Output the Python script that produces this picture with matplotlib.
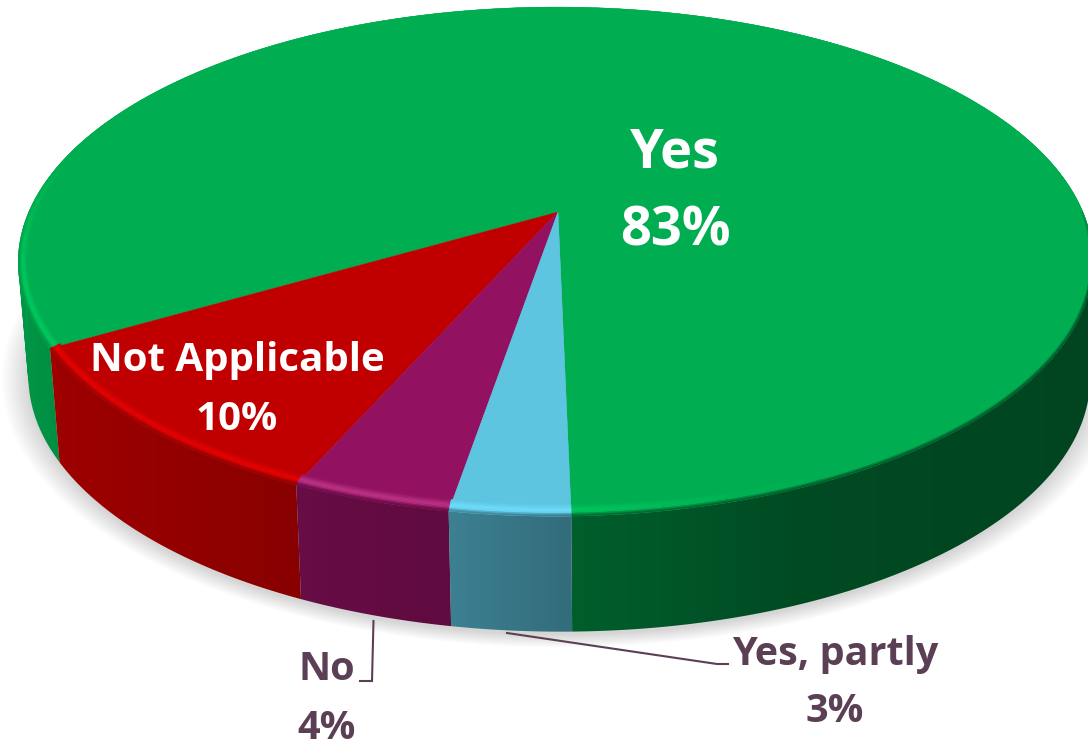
import numpy as np
import matplotlib
matplotlib.use("Agg")
import matplotlib.pyplot as plt
from matplotlib.collections import PolyCollection
from matplotlib.path import Path

labels = ["Yes", "Not Applicable", "No", "Yes, partly"]
shares = [83, 10, 4, 3]
colors = ["#00AD50", "#C00000", "#921161", "#5DC5E0"]
lights = ["#00CC60", "#E80404", "#C2388A", "#70E0FF"]

START = 271.0  # first slice starts at the front of the disc
PIX_W, PIX_H = 1088, 741
CX, CY = 558.0, 212.0
K, B = 0.195, 203.5
C, D = 527.0, -1.5
DEPTH = 115.5

plt.rcParams["font.family"] = ["Open Sans", "DejaVu Sans"]


def rgb(c):
    return np.array(matplotlib.colors.to_rgb(c))


def top_xy(t, ru=1.0, rv=1.0):
    # perspective view of the disc's top face
    u = ru * np.cos(np.radians(t))
    v = rv * np.sin(np.radians(t))
    w = 1 + K * v + 0.005 * u
    return CX + (C * u + D * v) / w, (CY - B * v) / w


def bottom_xy(t):
    u = np.cos(np.radians(t))
    v = np.sin(np.radians(t))
    w = 1 + K * v
    return CX + 1 + 0.988 * (C * u + D * v) / w, (CY - B * v) / w + DEPTH


def wall_shade(x):
    return np.interp(x, [17, 60, 300, 450, 571, 800, 1090],
                     [0.88, 0.82, 0.71, 0.65, 0.55, 0.43, 0.40])


fig = plt.figure(figsize=(PIX_W / 100, PIX_H / 100), dpi=100)
ax = fig.add_axes([0, 0, 1, 1])

# soft shadow under the disc
ts = np.linspace(0, 360, 361)
bx, by = bottom_xy(ts)
for grow in np.linspace(1.0, 1.05, 14):
    sx = CX + (bx - CX) * grow
    sy = (CY + DEPTH + 50) + (by - CY - DEPTH - 50) * grow + 3
    ax.fill(sx, sy, color="#555555", alpha=0.014, lw=0, zorder=0.1)

# slice angle ranges from the shares
ends = START + np.cumsum(shares) * 3.6
starts = np.r_[START, ends[:-1]]

# side wall, shaded left to right; every quad wound the same way so the fold at the sides stays filled
xgrad = np.arange(0, PIX_W + 1)
for s, e, col in zip(starts, ends, colors):
    ang = np.linspace(s, e, int(e - s) * 2 + 2)
    ang = ang[np.sin(np.radians(ang)) < 0.4]
    x0, y0 = top_xy(ang)
    x1, y1 = bottom_xy(ang)
    quads = []
    for i in range(len(ang) - 1):
        if ang[i + 1] - ang[i] > 2:
            continue
        q = np.array([(x0[i], y0[i]), (x0[i + 1], y0[i + 1]), (x1[i + 1], y1[i + 1]), (x1[i], y1[i])])
        area = np.sum(q[:, 0] * np.roll(q[:, 1], -1) - np.roll(q[:, 0], -1) * q[:, 1])
        quads.append(q if area > 0 else q[::-1])
    img = rgb(col)[None, None, :] * wall_shade(xgrad)[None, :, None]
    im = ax.imshow(np.clip(img, 0, 1), extent=(0, PIX_W, PIX_H, 0), aspect="auto",
                   interpolation="bilinear", zorder=0.5)
    im.set_clip_path(Path.make_compound_path_from_polys(np.array(quads)), transform=ax.transData)

ax.set_xlim(0, PIX_W)
ax.set_ylim(PIX_H, 0)
ax.axis("off")

# top face
for s, e, col in zip(starts, ends, colors):
    ang = np.linspace(s, e, int(e - s) * 2 + 2)
    x, y = top_xy(ang)
    ax.fill(np.r_[CX, x], np.r_[CY, y], color=col, lw=0.3, ec=col)

# bevel along the rim: light band on the front left, blurred dark edge at the wall
radii = np.linspace(0.968, 1.0, 9)
for s, e, col, li in zip(starts, ends, colors, lights):
    ang = np.arange(s, e + 1.0, 1.0)
    ang[-1] = e
    quads, fc = [], []
    for r0, r1 in zip(radii[:-1], radii[1:]):
        rm = (r0 + r1) / 2
        light = max(0.0, 1 - abs(rm - 0.984) / 0.016)
        edge = max(0.0, (rm - 0.990) / 0.010)
        ru0, ru1 = 1 - (1 - r0) * 0.5, 1 - (1 - r1) * 0.5
        xa, ya = top_xy(ang, ru0, r0)
        xb, yb = top_xy(ang, ru1, r1)
        for i in range(len(ang) - 1):
            tm = (ang[i] + ang[i + 1]) / 2
            tw = tm % 360
            lit = np.interp(tw, [162, 180, 197, 272, 285, 297], [0, 0.5, 1, 0.9, 0.25, 0])
            front = np.interp(tw, [175, 195, 345, 365], [0, 1, 1, 0])
            c = rgb(col) + (rgb(li) - rgb(col)) * lit * light
            wall = rgb(col) * wall_shade(xb[i])
            c = c + (wall - c) * edge * front
            quads.append([(xa[i], ya[i]), (xa[i + 1], ya[i + 1]), (xb[i + 1], yb[i + 1]), (xb[i], yb[i])])
            fc.append(np.clip(c, 0, 1))
    ax.add_collection(PolyCollection(quads, facecolors=fc, edgecolors="face", linewidths=0.3))

# labels
big = dict(color="white", fontsize=39, fontweight="bold", ha="center", va="center")
mid = dict(color="white", fontsize=29, fontweight="bold", ha="center", va="center")
ax.text(675, 153, labels[0], **big)
ax.text(675, 231, f"{shares[0]}%", **big)
ax.text(237, 360, labels[1], **mid)
ax.text(237, 419, f"{shares[1]}%", **mid)

DARK = "#5B3F55"
out = dict(color=DARK, fontsize=28.5, fontweight="bold", ha="center", va="center")
ax.text(327, 669, labels[2], **out)
ax.text(327, 739, f"{shares[2]}%", color=DARK, fontsize=28.5, fontweight="bold", ha="center", va="baseline")
ax.text(835, 654, labels[3], **out)
ax.text(835, 711, f"{shares[3]}%", **out)

# leader lines
ax.plot([373.5, 372, 360], [621, 681, 681], color=DARK, lw=1.5, solid_joinstyle="miter")
ax.plot([507, 717, 728], [633, 664, 664], color=DARK, lw=1.5)

fig.savefig("out.png", dpi=100)
